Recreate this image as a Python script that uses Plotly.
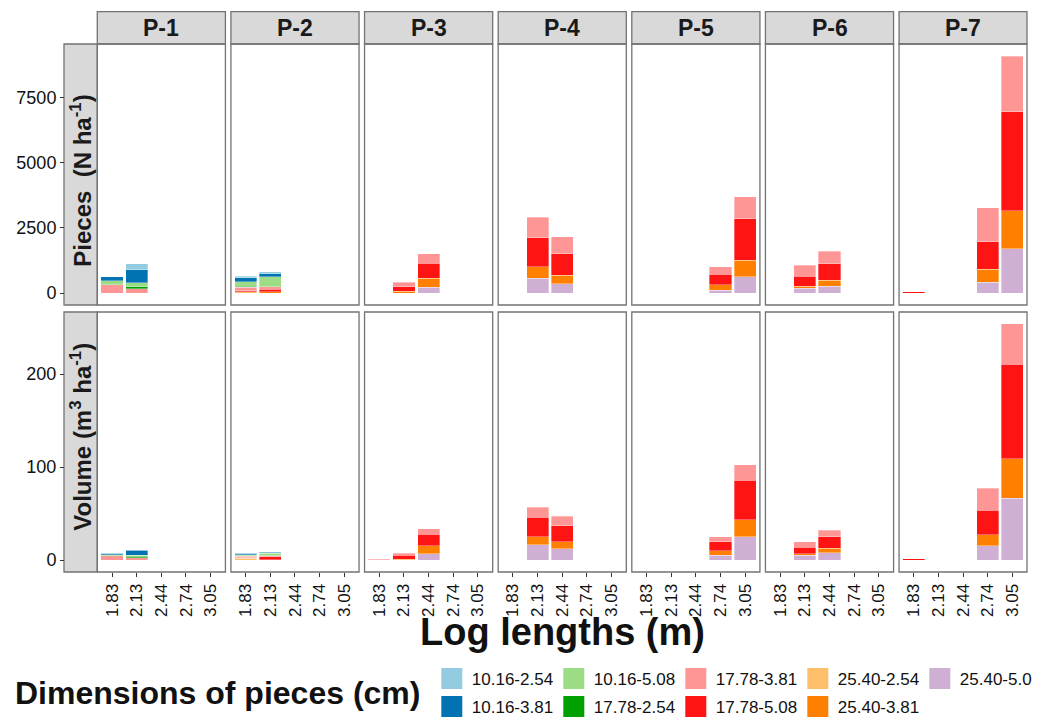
import plotly.graph_objects as go

# ---------------- data ----------------
lengths = ["1.83", "2.13", "2.44", "2.74", "3.05"]
plots = ["P-1", "P-2", "P-3", "P-4", "P-5", "P-6", "P-7"]
dims = ["10.16-2.54", "10.16-3.81", "10.16-5.08", "17.78-2.54", "17.78-3.81",
        "17.78-5.08", "25.40-2.54", "25.40-3.81", "25.40-5.0"]
dim_colors = ["#93CBE0", "#0173B2", "#9CDC85", "#00A000", "#FF9696",
              "#FF1414", "#FFBE6A", "#FF8000", "#D0AFD5"]

# Pieces (N ha-1): per plot, per dimension, values for each log length
pieces_p1 = {"10.16-2.54": [0, 240, 0, 0, 0], "10.16-3.81": [150, 490, 0, 0, 0],
             "10.16-5.08": [150, 150, 0, 0, 0], "17.78-2.54": [0, 88, 0, 0, 0],
             "17.78-3.81": [320, 165, 0, 0, 0]}
pieces_p2 = {"10.16-2.54": [50, 90, 0, 0, 0], "10.16-3.81": [165, 100, 0, 0, 0],
             "10.16-5.08": [165, 385, 0, 0, 0], "17.78-2.54": [50, 0, 0, 0, 0],
             "17.78-3.81": [128, 100, 0, 0, 0], "17.78-5.08": [30, 100, 0, 0, 0],
             "25.40-2.54": [60, 0, 0, 0, 0], "25.40-3.81": [0, 50, 0, 0, 0]}
pieces_p3 = {"17.78-3.81": [15, 180, 357, 0, 0], "17.78-5.08": [0, 180, 575, 0, 0],
             "25.40-3.81": [0, 65, 357, 0, 0], "25.40-5.0": [0, 0, 218, 0, 0]}
pieces_p4 = {"17.78-3.81": [0, 779, 664, 0, 0], "17.78-5.08": [0, 1124, 817, 0, 0],
             "25.40-3.81": [0, 434, 332, 0, 0], "25.40-5.0": [0, 575, 358, 0, 0]}
pieces_p5 = {"17.78-3.81": [0, 0, 0, 281, 843], "17.78-5.08": [0, 0, 0, 408, 1583],
             "25.40-3.81": [0, 0, 0, 217, 626], "25.40-5.0": [0, 0, 0, 102, 638]}
pieces_p6 = {"17.78-3.81": [0, 433, 465, 0, 0], "17.78-5.08": [0, 367, 640, 0, 0],
             "25.40-3.81": [0, 88, 235, 0, 0], "25.40-5.0": [0, 185, 260, 0, 0]}
pieces_p7 = {"17.78-3.81": [0, 0, 0, 1302, 2119], "17.78-5.08": [60, 0, 0, 1060, 3805],
             "25.40-3.81": [0, 0, 0, 498, 1455], "25.40-5.0": [0, 0, 0, 421, 1698]}

# Volume (m3 ha-1)
volume_p1 = {"10.16-2.54": [0, 0.7, 0, 0, 0], "10.16-3.81": [1.2, 5.0, 0, 0, 0],
             "10.16-5.08": [1.5, 1.2, 0, 0, 0], "17.78-2.54": [0, 1.8, 0, 0, 0],
             "17.78-3.81": [4.5, 2.5, 0, 0, 0]}
volume_p2 = {"10.16-2.54": [0.3, 0.6, 0, 0, 0], "10.16-3.81": [1.2, 1.2, 0, 0, 0],
             "10.16-5.08": [1.6, 2.8, 0, 0, 0], "17.78-2.54": [0.5, 0, 0, 0, 0],
             "17.78-3.81": [1.3, 1.0, 0, 0, 0], "17.78-5.08": [0.4, 3.0, 0, 0, 0],
             "25.40-2.54": [2.3, 0, 0, 0, 0], "25.40-3.81": [0, 0.6, 0, 0, 0]}
volume_p3 = {"17.78-3.81": [1.2, 1.9, 6.1, 0, 0], "17.78-5.08": [0, 4.3, 12.1, 0, 0],
             "25.40-3.81": [0, 1.2, 8.9, 0, 0], "25.40-5.0": [0, 0, 6.8, 0, 0]}
volume_p4 = {"17.78-3.81": [0, 11.0, 10.3, 0, 0], "17.78-5.08": [0, 20.7, 17.5, 0, 0],
             "25.40-3.81": [0, 8.9, 7.5, 0, 0], "25.40-5.0": [0, 16.4, 12.1, 0, 0]}
volume_p5 = {"17.78-3.81": [0, 0, 0, 5.3, 16.4], "17.78-5.08": [0, 0, 0, 9.6, 42.4],
             "25.40-3.81": [0, 0, 0, 5.0, 18.2], "25.40-5.0": [0, 0, 0, 5.3, 25.3]}
volume_p6 = {"17.78-3.81": [0, 6.1, 6.8, 0, 0], "17.78-5.08": [0, 6.8, 12.5, 0, 0],
             "25.40-3.81": [0, 1.8, 5.0, 0, 0], "25.40-5.0": [0, 5.3, 7.8, 0, 0]}
volume_p7 = {"17.78-3.81": [0, 0, 0, 23.2, 43.8], "17.78-5.08": [1.4, 0, 0, 26.4, 101.3],
             "25.40-3.81": [0, 0, 0, 11.8, 42.4], "25.40-5.0": [0, 0, 0, 15.7, 66.7]}

pieces = [pieces_p1, pieces_p2, pieces_p3, pieces_p4, pieces_p5, pieces_p6, pieces_p7]
volume = [volume_p1, volume_p2, volume_p3, volume_p4, volume_p5, volume_p6, volume_p7]

pieces_ticks = [0, 2500, 5000, 7500]
volume_ticks = [0, 100, 200]

# ---------------- layout geometry (pixels) ----------------
W, H = 1047, 723
ML, MR, MT, MB = 64, 19.5, 44, 151
PW = W - ML - MR
PH = H - MT - MB
PANEL_L, STEP, PANEL_W = 97.3, 133.7, 128.2
ROW_DOM = [(267 / PH, 1.0), (0.0, 260 / PH)]   # top row, bottom row
FONT = "Liberation Sans, Arial, sans-serif"
BORDER = "#737373"


def clamp(v):
    return max(0.0, min(1.0, v))


def px_x(p):
    return (p - ML) / PW


def px_y(p):
    return (H - MB - p) / PH


fig = go.Figure()
layout = {}
shapes = []
annotations = []

y_ranges = [[-455, 9555], [-12.7, 266.7]]

for r, data in enumerate([pieces, volume]):
    for c in range(7):
        k = r * 7 + c + 1
        xa = "x" if k == 1 else f"x{k}"
        ya = "y" if k == 1 else f"y{k}"
        x0 = clamp(px_x(PANEL_L + c * STEP))
        x1 = clamp(px_x(PANEL_L + c * STEP + PANEL_W))
        panel = data[c]
        for d in reversed(range(len(dims))):
            name = dims[d]
            if name not in panel:
                continue
            fig.add_trace(go.Bar(
                x=lengths, y=panel[name], name=name, xaxis=xa, yaxis=ya,
                marker=dict(color=dim_colors[d],
                            line=dict(color="rgba(255,255,255,0.55)", width=0.6)),
                width=0.9, showlegend=False))
        xkey = "xaxis" if k == 1 else f"xaxis{k}"
        ykey = "yaxis" if k == 1 else f"yaxis{k}"
        bottom = (r == 1)
        layout[xkey] = dict(
            domain=[x0, x1], anchor=ya, type="category",
            categoryorder="array", categoryarray=lengths,
            range=[-0.6, 4.6], showgrid=False, zeroline=False, showline=False,
            ticks="outside" if bottom else "", ticklen=4, tickcolor="#333",
            showticklabels=bottom, tickangle=-90,
            tickfont=dict(size=17, color="#111", family=FONT))
        ydict = dict(domain=[clamp(v) for v in ROW_DOM[r]], range=y_ranges[r],
                     showgrid=False, zeroline=False, showline=False)
        if c == 0:
            ydict.update(anchor="free", position=0, ticks="outside", ticklen=4,
                         tickcolor="#333", tickmode="array",
                         tickvals=pieces_ticks if r == 0 else volume_ticks,
                         tickfont=dict(size=18, color="#111", family=FONT))
        else:
            ydict.update(anchor=xa, showticklabels=False, ticks="",
                         matches="y" if r == 0 else "y8")
        layout[ykey] = ydict
        # panel border
        shapes.append(dict(type="rect", xref=f"{xa} domain", yref=f"{ya} domain",
                           x0=0, x1=1, y0=0, y1=1,
                           line=dict(color=BORDER, width=1.3), layer="above"))
        # top strips
        if r == 0:
            shapes.append(dict(type="rect", xref=f"{xa} domain", yref="paper",
                               x0=0, x1=1, y0=px_y(44), y1=px_y(11.7),
                               fillcolor="#D9D9D9",
                               line=dict(color=BORDER, width=1.3), layer="below"))
            annotations.append(dict(text=f"<b>{plots[c]}</b>", xref=f"{xa} domain",
                                    yref="paper", x=0.5, y=px_y(28),
                                    xanchor="center", yanchor="middle",
                                    showarrow=False,
                                    font=dict(size=23, color="#1a1a1a", family=FONT)))

# left strips
row_labels = ["<b>Pieces\u00a0\u00a0(N ha<sup>-1</sup>)</b>",
              "<b>Volume (m<sup>3</sup> ha<sup>-1</sup>)</b>"]
row_centres = [181, 437]
for r in range(2):
    y0, y1 = ROW_DOM[r]
    shapes.append(dict(type="rect", xref="paper", yref="paper",
                       x0=0, x1=px_x(97.3), y0=y0, y1=y1, fillcolor="#D9D9D9",
                       line=dict(color=BORDER, width=1.3), layer="below"))
    annotations.append(dict(text=row_labels[r], xref="paper", yref="paper",
                            x=px_x(80.7), y=px_y(row_centres[r]), textangle=-90,
                            xanchor="center", yanchor="middle",
                            showarrow=False,
                            font=dict(size=24, color="#1a1a1a", family=FONT)))

# axis title
annotations.append(dict(text="<b>Log lengths (m)</b>", xref="paper", yref="paper",
                        x=px_x(563), y=px_y(632), xanchor="center", yanchor="middle",
                        showarrow=False,
                        font=dict(size=38, color="#111", family=FONT)))
# legend title
annotations.append(dict(text="<b>Dimensions of pieces (cm)</b>", xref="paper",
                        yref="paper", x=px_x(13), y=px_y(693), xanchor="left",
                        yanchor="middle", showarrow=False,
                        font=dict(size=32, color="#111", family=FONT)))

# legend entries (two rows, filled column by column)
row1 = [0, 2, 4, 6, 8]
row2 = [1, 3, 5, 7]
for lg, idxs in (("legend", row1), ("legend2", row2)):
    for d in idxs:
        fig.add_trace(go.Scatter(
            x=[None], y=[None], mode="markers", name=dims[d], legend=lg,
            marker=dict(symbol="square", size=16, color=dim_colors[d],
                        line=dict(color=dim_colors[d], width=5)),
            showlegend=True, hoverinfo="skip"))

leg_common = dict(orientation="h", xanchor="left", yanchor="middle",
                  entrywidth=77, entrywidthmode="pixels", traceorder="normal",
                  bgcolor="rgba(0,0,0,0)", itemclick=False, itemdoubleclick=False,
                  font=dict(size=17, color="#111", family=FONT), tracegroupgap=0)

fig.update_layout(
    width=W, height=H,
    margin=dict(l=ML, r=MR, t=MT, b=MB, autoexpand=False),
    paper_bgcolor="white", plot_bgcolor="white",
    barmode="stack", bargap=0.1,
    showlegend=True,
    font=dict(family=FONT, color="#111"),
    legend=dict(x=px_x(432), y=px_y(679), **leg_common),
    legend2=dict(x=px_x(432), y=px_y(707), **leg_common),
    shapes=shapes, annotations=annotations,
    **layout)

fig.write_html("out.html", config={"displayModeBar": False})
